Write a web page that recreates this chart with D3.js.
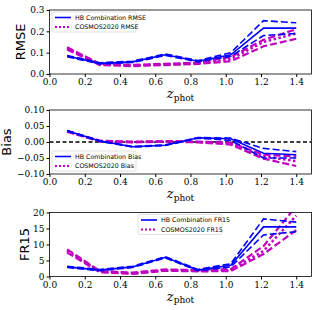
<!DOCTYPE html>
<html>
<head>
<meta charset="utf-8">
<script src="https://cdn.jsdelivr.net/npm/d3@7"></script>
<style>
  body { margin: 0; background: #fff; }
  svg text { fill: #000; }
  .tick text { font-family: "DejaVu Serif", serif; font-size: 9px; }
</style>
</head>
<body>
<div id="chart"></div>
<script>
// redshift bins
const zBins = [0.1, 0.2857, 0.4714, 0.6571, 0.8429, 1.0286, 1.2143, 1.4];

// RMSE
const rmseHb = [0.084, 0.050, 0.057, 0.090, 0.060, 0.090, 0.215, 0.215];
const rmseHbHi = [0.087, 0.053, 0.060, 0.094, 0.063, 0.100, 0.250, 0.240];
const rmseHbLo = [0.081, 0.047, 0.054, 0.087, 0.057, 0.083, 0.180, 0.190];
const rmseCos = [0.120, 0.045, 0.040, 0.045, 0.050, 0.070, 0.150, 0.190];
const rmseCosHi = [0.125, 0.048, 0.043, 0.048, 0.053, 0.080, 0.160, 0.210];
const rmseCosLo = [0.115, 0.042, 0.037, 0.042, 0.047, 0.060, 0.130, 0.165];

// Bias
const biasHb = [0.035, 0.003, -0.015, -0.010, 0.013, 0.010, -0.035, -0.040];
const biasHbHi = [0.036, 0.004, -0.014, -0.009, 0.014, 0.012, -0.020, -0.030];
const biasHbLo = [0.034, 0.002, -0.016, -0.011, 0.012, 0.005, -0.050, -0.050];
const biasCos = [0.033, 0.003, 0.000, 0.002, 0.000, -0.005, -0.045, -0.060];
const biasCosHi = [0.034, 0.004, 0.001, 0.003, 0.001, -0.002, -0.040, -0.045];
const biasCosLo = [0.032, 0.002, -0.001, 0.001, -0.001, -0.008, -0.052, -0.075];

// FR15
const frHb = [3.0, 2.0, 3.0, 6.0, 2.0, 3.5, 15.5, 15.5];
const frHbHi = [3.2, 2.2, 3.2, 6.2, 2.2, 4.0, 18.0, 17.0];
const frHbLo = [2.8, 1.8, 2.8, 5.8, 1.8, 3.0, 13.0, 14.0];
const frCos = [8.0, 1.5, 1.0, 2.0, 1.8, 2.0, 8.0, 19.0];
const frCosHi = [8.5, 1.7, 1.2, 2.2, 2.0, 2.3, 9.5, 22.0];
const frCosLo = [7.5, 1.3, 0.8, 1.8, 1.6, 1.7, 7.0, 14.5];

const xTicks = [0.0, 0.2, 0.4, 0.6, 0.8, 1.0, 1.2, 1.4];

const panels = [
    { label: "RMSE", top: 10, yDomain: [0, 0.3], yTicks: [0, 0.1, 0.2, 0.3], fmt: d3.format(".1f"),
      hb: [rmseHb, rmseHbHi, rmseHbLo], cos: [rmseCos, rmseCosHi, rmseCosLo],
      legend: { x: 52, y: 12, names: ["HB Combination RMSE", "COSMOS2020 RMSE"] }, labelX: 25, zero: false },
    { label: "Bias", top: 110, yDomain: [-0.1, 0.1], yTicks: [-0.1, -0.05, 0, 0.05, 0.1], fmt: d3.format(".2f"),
      hb: [biasHb, biasHbHi, biasHbLo], cos: [biasCos, biasCosHi, biasCosLo],
      legend: { x: 52, y: 151, names: ["HB Combination Bias", "COSMOS2020 Bias"] }, labelX: 11, zero: true },
    { label: "FR15", top: 212.5, yDomain: [0, 20], yTicks: [0, 5, 10, 15, 20], fmt: d3.format("d"),
      hb: [frHb, frHbHi, frHbLo], cos: [frCos, frCosHi, frCosLo],
      legend: { x: 138, y: 214.5, names: ["HB Combination FR15", "COSMOS2020 FR15"] }, labelX: 29, zero: false }
];

const width = 320, height = 310;
const left = 49.5, right = 311.5, plotH = 64;
const blue = "#0000ff", magenta = "#bf00bf";

const svg = d3.select("#chart").append("svg")
    .attr("width", width)
    .attr("height", height);

const x = d3.scaleLinear().domain([0, 1.4865]).range([left, right]);

panels.forEach((p, i) => {
    const y = d3.scaleLinear().domain(p.yDomain).range([p.top + plotH, p.top]);
    const g = svg.append("g");

    const clipId = "clip" + i;
    g.append("clipPath").attr("id", clipId)
        .append("rect")
        .attr("x", left).attr("y", p.top)
        .attr("width", right - left).attr("height", plotH);

    // axes
    g.append("g")
        .attr("transform", `translate(0,${p.top + plotH})`)
        .call(d3.axisBottom(x).tickValues(xTicks).tickFormat(d3.format(".1f")).tickSize(3).tickPadding(2))
        .call(a => a.select(".domain").remove());
    g.append("g")
        .attr("transform", `translate(${left},0)`)
        .call(d3.axisLeft(y).tickValues(p.yTicks).tickFormat(p.fmt).tickSize(3).tickPadding(2))
        .call(a => a.select(".domain").remove());

    const plot = g.append("g").attr("clip-path", `url(#${clipId})`);

    if (p.zero) {
        plot.append("line")
            .attr("x1", left).attr("x2", right)
            .attr("y1", y(0)).attr("y2", y(0))
            .attr("stroke", "#000").attr("stroke-width", 1.3)
            .attr("stroke-dasharray", "4,2.5");
    }

    const line = d3.line().x((d, j) => x(zBins[j])).y(d => y(d));

    const series = [
        { data: p.cos[1], color: magenta, dash: "7,3", w: 2.2 },
        { data: p.cos[2], color: magenta, dash: "7,3", w: 2.2 },
        { data: p.cos[0], color: magenta, dash: "2.5,2.5", w: 2.5 },
        { data: p.hb[1], color: blue, dash: "7,3", w: 1.6 },
        { data: p.hb[2], color: blue, dash: "7,3", w: 1.6 },
        { data: p.hb[0], color: blue, dash: null, w: 1.6 }
    ];
    series.forEach(s => {
        plot.append("path")
            .datum(s.data)
            .attr("d", line)
            .attr("fill", "none")
            .attr("stroke", s.color)
            .attr("stroke-width", s.w)
            .attr("stroke-dasharray", s.dash);
    });

    // frame
    g.append("rect")
        .attr("x", left).attr("y", p.top)
        .attr("width", right - left).attr("height", plotH)
        .attr("fill", "none").attr("stroke", "#000").attr("stroke-width", 0.8);

    // legend
    const lg = g.append("g").attr("transform", `translate(${p.legend.x},${p.legend.y})`);
    lg.append("rect")
        .attr("width", 84).attr("height", 20).attr("rx", 1.5)
        .attr("fill", "#fff").attr("fill-opacity", 0.8)
        .attr("stroke", "#ccc").attr("stroke-width", 0.6);
    const items = [
        { color: blue, dash: null, w: 1.6 },
        { color: magenta, dash: "2,2", w: 2 }
    ];
    items.forEach((it, k) => {
        const yy = 5.5 + k * 9.5;
        lg.append("line")
            .attr("x1", 3).attr("x2", 19)
            .attr("y1", yy).attr("y2", yy)
            .attr("stroke", it.color).attr("stroke-width", it.w)
            .attr("stroke-dasharray", it.dash);
        lg.append("text")
            .attr("x", 23).attr("y", yy + 2.3)
            .attr("font-family", "DejaVu Sans, sans-serif")
            .attr("font-size", 6.3)
            .text(p.legend.names[k]);
    });

    // y label
    g.append("text")
        .attr("transform", `translate(${p.labelX},${p.top + plotH / 2}) rotate(-90)`)
        .attr("text-anchor", "middle")
        .attr("font-family", "DejaVu Sans, sans-serif")
        .attr("font-size", 13)
        .text(p.label);

    // x label
    const xl = g.append("text")
        .attr("x", (left + right) / 2)
        .attr("y", p.top + plotH + 24)
        .attr("text-anchor", "middle")
        .attr("font-family", "DejaVu Serif, serif");
    xl.append("tspan").attr("font-style", "italic").attr("font-size", 13).text("z");
    xl.append("tspan").attr("font-size", 9).attr("dy", 2.5).text("phot");
});
</script>
</body>
</html>
